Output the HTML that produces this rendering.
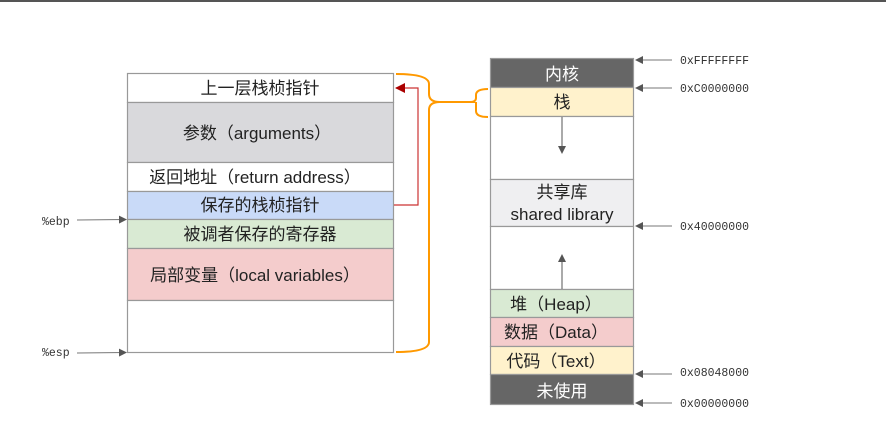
<!DOCTYPE html>
<html><head><meta charset="utf-8"><style>
html,body{margin:0;padding:0;background:#fff;}
svg{display:block;}
text{font-family:"Liberation Sans","Noto Sans CJK SC",sans-serif;}
.m{font-family:"Liberation Mono","DejaVu Sans Mono",monospace;font-size:11.5px;fill:#333;}
</style></head><body>
<svg width="886" height="438" viewBox="0 0 886 438" xmlns="http://www.w3.org/2000/svg">
<defs>
<marker id="ag" markerWidth="8" markerHeight="8" refX="7" refY="4" orient="auto" markerUnits="userSpaceOnUse"><path d="M0,0 L8,4 L0,8 z" fill="#555"/></marker>
<marker id="ar" markerWidth="10" markerHeight="10" refX="9" refY="5" orient="auto" markerUnits="userSpaceOnUse"><path d="M0,0 L10,5 L0,10 z" fill="#a00"/></marker>
</defs>
<rect x="0" y="0" width="886" height="2" fill="#555"/>
<g stroke="#999" stroke-width="1.2">
<rect x="127.5" y="73.5" width="266" height="29" fill="#fff"/>
<rect x="127.5" y="102.5" width="266" height="60" fill="#d9d9dc"/>
<rect x="127.5" y="162.5" width="266" height="29" fill="#fff"/>
<rect x="127.5" y="191.5" width="266" height="28" fill="#c9daf8"/>
<rect x="127.5" y="219.5" width="266" height="29" fill="#d9ead3"/>
<rect x="127.5" y="248.5" width="266" height="52" fill="#f4cccc"/>
<rect x="127.5" y="300.5" width="266" height="52" fill="#fff"/>
</g>
<g font-size="17" fill="#222" text-anchor="middle">
<text x="260" y="94">上一层栈桢指针</text>
<text x="257" y="139">参数（arguments）</text>
<text x="255" y="183">返回地址（return address）</text>
<text x="260" y="211">保存的栈桢指针</text>
<text x="260" y="240">被调者保存的寄存器</text>
<text x="255" y="281">局部变量（local variables）</text>
</g>
<text x="42" y="225" class="m">%ebp</text>
<text x="42" y="356" class="m">%esp</text>
<line x1="77" y1="220" x2="126" y2="219.5" stroke="#777" marker-end="url(#ag)"/>
<line x1="77" y1="353" x2="126" y2="352.5" stroke="#777" marker-end="url(#ag)"/>
<polyline points="394,205 418,205 418,88 396,88" fill="none" stroke="#c33" stroke-width="1.2" marker-end="url(#ar)"/>
<path d="M396,74 Q429,74 429,84 L429,94 Q429,102 440,102 L475,102 M440,102 Q429,102 429,110 L429,342 Q429,352 396,352" fill="none" stroke="#f90" stroke-width="2"/>
<path d="M488,89 Q476,89 476,95 L476,98 Q476,102 470,102 M476,102 Q476,102 476,106 L476,111 Q476,117 488,117" fill="none" stroke="#f90" stroke-width="2"/>
<g stroke="#999" stroke-width="1.2">
<rect x="490.5" y="58.5" width="143" height="29" fill="#666"/>
<rect x="490.5" y="87.5" width="143" height="29" fill="#fff2cc"/>
<rect x="490.5" y="116.5" width="143" height="63" fill="#fff"/>
<rect x="490.5" y="179.5" width="143" height="47" fill="#efeff1"/>
<rect x="490.5" y="226.5" width="143" height="63" fill="#fff"/>
<rect x="490.5" y="289.5" width="143" height="28" fill="#d9ead3"/>
<rect x="490.5" y="317.5" width="143" height="29" fill="#f4cccc"/>
<rect x="490.5" y="346.5" width="143" height="28" fill="#fff2cc"/>
<rect x="490.5" y="374.5" width="143" height="30" fill="#666"/>
</g>
<g font-size="17" text-anchor="middle" fill="#222">
<text x="562" y="80" fill="#fff">内核</text>
<text x="562" y="108">栈</text>
<text x="562" y="198">共享库</text>
<text x="562" y="220">shared library</text>
<text x="556" y="310">堆（Heap）</text>
<text x="556" y="338">数据（Data）</text>
<text x="556" y="367">代码（Text）</text>
<text x="562" y="397" fill="#fff">未使用</text>
</g>
<line x1="562" y1="117" x2="562" y2="153" stroke="#555" marker-end="url(#ag)"/>
<line x1="562" y1="289" x2="562" y2="255" stroke="#555" marker-end="url(#ag)"/>
<g stroke="#777">
<line x1="672" y1="60" x2="636" y2="60" marker-end="url(#ag)"/>
<line x1="672" y1="88" x2="636" y2="88" marker-end="url(#ag)"/>
<line x1="672" y1="226" x2="636" y2="226" marker-end="url(#ag)"/>
<line x1="672" y1="374" x2="636" y2="374" marker-end="url(#ag)"/>
<line x1="672" y1="403" x2="636" y2="403" marker-end="url(#ag)"/>
</g>
<text x="680" y="64" class="m">0xFFFFFFFF</text>
<text x="680" y="92" class="m">0xC0000000</text>
<text x="680" y="230" class="m">0x40000000</text>
<text x="680" y="376" class="m">0x08048000</text>
<text x="680" y="407" class="m">0x00000000</text>
</svg>
</body></html>
